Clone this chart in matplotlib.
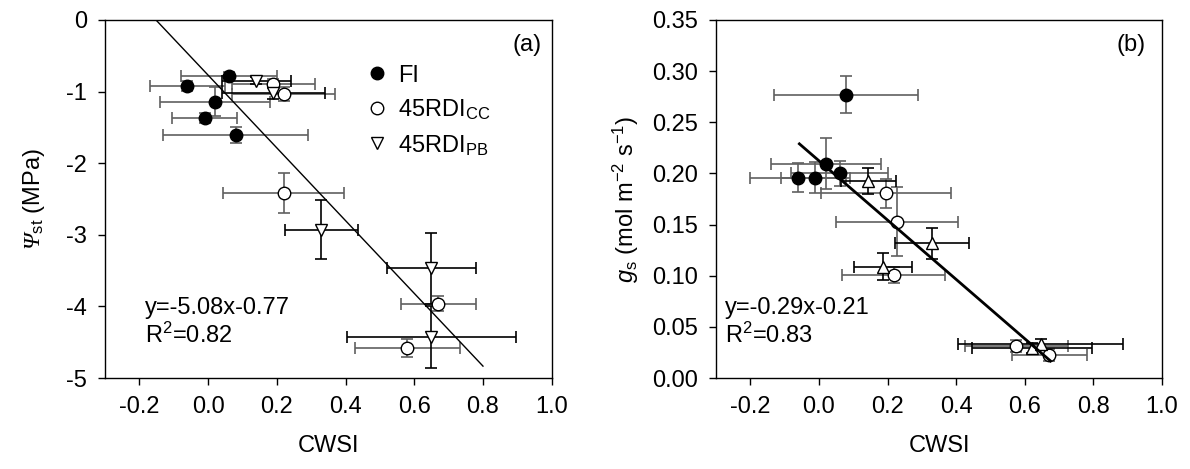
import matplotlib.pyplot as plt
import numpy as np

plt.rcParams['font.family'] = ['Liberation Sans', 'DejaVu Sans']
plt.rcParams['font.size'] = 17
plt.rcParams['axes.unicode_minus'] = False
plt.rcParams['mathtext.fontset'] = 'custom'
plt.rcParams['mathtext.rm'] = 'Liberation Sans'
plt.rcParams['mathtext.it'] = 'Liberation Sans:italic'
# italic greek capital (mathtext forces \mathit greek capitals upright)
plt.rcParams['mathtext.sf'] = 'Liberation Serif:italic'

# ---- panel (a): stem water potential vs CWSI ----
fi_x = [0.06, -0.06, 0.02, -0.01, 0.08]
fi_y = [-0.78, -0.92, -1.14, -1.37, -1.61]
fi_xe = [0.14, 0.11, 0.16, 0.095, 0.21]
fi_ye = [0.05, 0.07, 0.2, 0.07, 0.11]

cc_x = [0.19, 0.22, 0.22, 0.67, 0.58]
cc_y = [-0.89, -1.03, -2.42, -3.96, -4.58]
cc_xe = [0.12, 0.15, 0.176, 0.11, 0.153]
cc_ye = [0.06, 0.1, 0.28, 0.1, 0.12]

pb_x = [0.14, 0.19, 0.33, 0.65, 0.65]
pb_y = [-0.85, -1.02, -2.93, -3.47, -4.43]
pb_xe = [0.1, 0.15, 0.107, 0.13, 0.245]
pb_ye = [0.05, 0.08, 0.41, 0.5, 0.43]

fit_a = (-5.08, -0.77)
fit_a_x = [-0.152, 0.8]

# ---- panel (b): stomatal conductance vs CWSI ----
gfi_x = [0.08, 0.02, 0.06, -0.06, -0.01]
gfi_y = [0.277, 0.2095, 0.200, 0.196, 0.196]
gfi_xe = [0.21, 0.16, 0.14, 0.14, 0.1]
gfi_ye = [0.018, 0.025, 0.012, 0.014, 0.015]

gcc_x = [0.195, 0.228, 0.218, 0.575, 0.672]
gcc_y = [0.1806, 0.153, 0.101, 0.031, 0.0225]
gcc_xe = [0.19, 0.177, 0.15, 0.15, 0.11]
gcc_ye = [0.014, 0.034, 0.008, 0.006, 0.006]

gpb_x = [0.144, 0.33, 0.186, 0.622, 0.646]
gpb_y = [0.1926, 0.1317, 0.109, 0.029, 0.033]
gpb_xe = [0.08, 0.107, 0.085, 0.175, 0.24]
gpb_ye = [0.013, 0.015, 0.013, 0.005, 0.005]

fit_b = (-0.29, 0.2124)
fit_b_x = [-0.057, 0.675]

xticks = [-0.2, 0.0, 0.2, 0.4, 0.6, 0.8, 1.0]

fig = plt.figure(figsize=(11.9, 4.69), dpi=100)
axA = fig.add_axes([105/1190, 1 - 378/469, 446.7/1190, 358/469])
axB = fig.add_axes([716/1190, 1 - 378/469, 446/1190, 358/469])

grey = '#606060'


def draw(ax, x, y, xe, ye, ecol, **kw):
    ax.errorbar(x, y, xerr=xe, yerr=ye, fmt='none', ecolor=ecol,
                elinewidth=1.2, capsize=4, capthick=1.2, zorder=2)
    ax.plot(x, y, linestyle='none', markeredgecolor='black',
            markeredgewidth=1, zorder=3, **kw)


# panel (a)
draw(axA, fi_x, fi_y, fi_xe, fi_ye, grey, marker='o', markersize=9,
     markerfacecolor='black', label='FI')
draw(axA, cc_x, cc_y, cc_xe, cc_ye, grey, marker='o', markersize=9,
     markerfacecolor='white', label='45RDI$_{\\rm CC}$')
draw(axA, pb_x, pb_y, pb_xe, pb_ye, 'black', marker='v', markersize=9,
     markerfacecolor='white', label='45RDI$_{\\rm PB}$')
fx = np.array(fit_a_x)
axA.plot(fx, fit_a[0] * fx + fit_a[1], color='black', lw=1, zorder=4)

axA.set_xlim(-0.3, 1.0)
axA.set_ylim(-5, 0)
axA.set_yticks([0, -1, -2, -3, -4, -5])
axA.set_ylabel('$\\mathsf{Ψ}_{\\rm st}$ (MPa)', labelpad=14)
axA.text(0.09, 0.195, 'y=-5.08x-0.77', transform=axA.transAxes, va='center')
axA.text(0.09, 0.12, 'R$^2$=0.82', transform=axA.transAxes, va='center')
axA.text(0.945, 0.93, '(a)', transform=axA.transAxes, ha='center', va='center')
axA.legend(loc='upper left', bbox_to_anchor=(0.53, 0.935), frameon=False,
           handletextpad=0.3, labelspacing=0.45, handlelength=1.2)

# panel (b)
draw(axB, gfi_x, gfi_y, gfi_xe, gfi_ye, grey, marker='o', markersize=9,
     markerfacecolor='black')
draw(axB, gcc_x, gcc_y, gcc_xe, gcc_ye, grey, marker='o', markersize=9,
     markerfacecolor='white')
draw(axB, gpb_x, gpb_y, gpb_xe, gpb_ye, 'black', marker='^', markersize=9,
     markerfacecolor='white')
fx = np.array(fit_b_x)
axB.plot(fx, fit_b[0] * fx + fit_b[1], color='black', lw=2, zorder=4)

axB.set_xlim(-0.3, 1.0)
axB.set_ylim(0, 0.35)
axB.set_yticks(np.arange(0, 0.351, 0.05))
axB.yaxis.set_major_formatter(plt.FormatStrFormatter('%.2f'))
axB.set_ylabel('$\\mathit{g}_{\\rm s}$ (mol m$^{-2}$ s$^{-1}$)', labelpad=8)
axB.text(0.02, 0.195, 'y=-0.29x-0.21', transform=axB.transAxes, va='center')
axB.text(0.02, 0.12, 'R$^2$=0.83', transform=axB.transAxes, va='center')
axB.text(0.93, 0.93, '(b)', transform=axB.transAxes, ha='center', va='center')

for ax in (axA, axB):
    ax.set_xticks(xticks)
    ax.xaxis.set_major_formatter(plt.FormatStrFormatter('%.1f'))
    ax.set_xlabel('CWSI', labelpad=12)
    ax.tick_params(direction='out', length=5, width=1, top=False, right=False,
                   pad=8)
    for s in ax.spines.values():
        s.set_linewidth(1)

fig.savefig('out.png', dpi=100)
